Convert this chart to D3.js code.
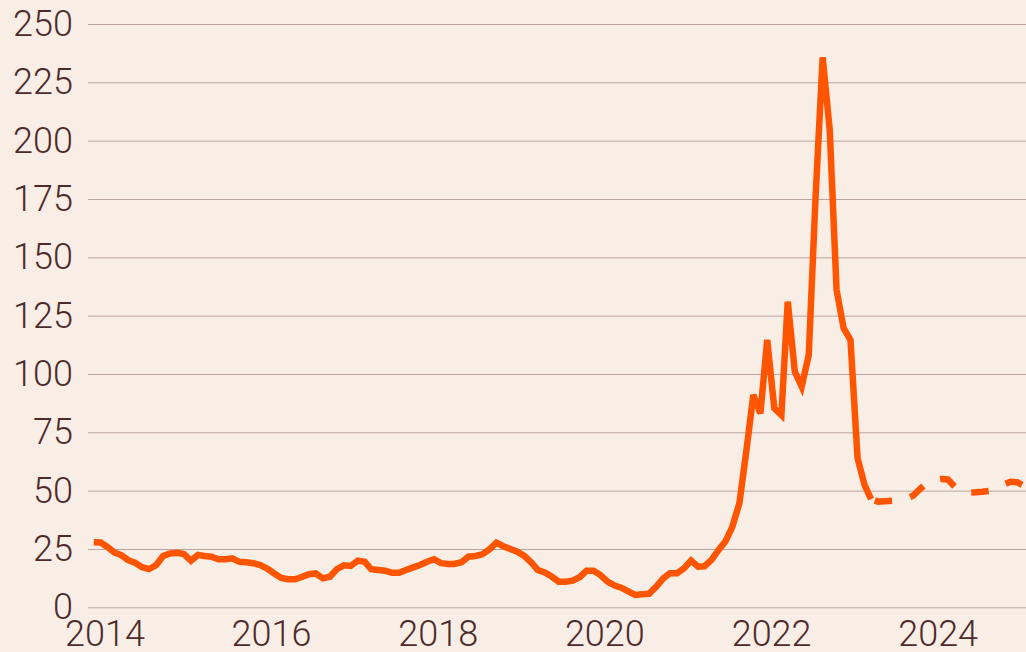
<!DOCTYPE html>
<html>
<head>
<meta charset="utf-8">
<script src="https://cdn.jsdelivr.net/npm/d3@7"></script>
<style>
  html, body { margin: 0; padding: 0; background: #f9eee5; }
  svg { display: block; }
  .tick text { font-family: Roboto, "Noto Sans", sans-serif; font-weight: 300; fill: #4e2b2b; }
</style>
</head>
<body>
<svg id="chart" width="1026" height="652"></svg>
<script>
// ---- Data (monthly averages, €/MWh) ----
const actualStart = [2013, 10]; // Nov 2013 (year, zero-based month)
const actualValues = [
  27.9, 27.8,
  25.8, 23.4, 22.4, 20.2, 19.1, 17.2, 16.4, 18.0, 22.0, 23.1, 23.4, 22.8,
  20.0, 22.4, 22.0, 21.7, 20.6, 20.6, 21.0, 19.5, 19.3, 18.9, 18.1, 16.6,
  14.5, 12.6, 12.0, 12.0, 13.0, 14.2, 14.5, 12.4, 13.1, 16.3, 18.0, 17.7,
  20.0, 19.5, 16.3, 16.0, 15.7, 14.8, 14.8, 16.0, 17.1, 18.1, 19.5, 20.6,
  18.9, 18.6, 18.6, 19.3, 21.7, 22.0, 22.7, 24.8, 27.7, 26.2, 25.0, 23.8,
  22.0, 19.2, 16.0, 14.9, 13.2, 11.0, 11.0, 11.4, 12.9, 15.7, 15.7, 13.8,
  11.0, 9.3, 8.4, 6.8, 5.3, 5.6, 5.8, 8.8, 12.4, 14.6, 14.6, 16.7,
  20.0, 17.4, 17.6, 20.3, 24.5, 28.3, 34.5, 44.6, 67.4, 91.0, 83.1, 114.6,
  85.3, 82.4, 131.0, 101.0, 94.6, 108.1, 176.0, 235.7, 204.6, 136.0, 119.6, 114.6,
  63.9, 52.4, 46.4
];
const forecastStart = [2023, 2]; // Mar 2023
const forecastValues = [
  46.4, 45.3, 45.5, 45.7, 45.9, 46.5, 47.8, 50.6, 53.3, 54.6,
  55.0, 54.8, 51.8, 49.6, 49.2, 49.3, 49.5, 49.9, 50.8, 52.5, 53.8, 53.6,
  52.0
];
const xTickYears = [2014, 2016, 2018, 2020, 2022, 2024];
const yTickValues = [0, 25, 50, 75, 100, 125, 150, 175, 200, 225, 250];

// ---- Build series ----
function toSeries(start, values) {
  return values.map((v, i) => ({ date: new Date(start[0], start[1] + i, 15), value: v }));
}
const actual = toSeries(actualStart, actualValues);
const forecast = toSeries(forecastStart, forecastValues);

// ---- Layout ----
const W = 1026, H = 652;
const plotLeft = 88, plotRight = 1026, plotTop = 24, plotBottom = 607.3;
const pxPerYear = 83.33;
const x0 = 104.5;

const svg = d3.select("#chart");
svg.append("rect").attr("width", W).attr("height", H).attr("fill", "#f9eee5");

const x = d3.scaleTime()
  .domain([new Date(2014, 0, 1), new Date(2025, 0, 1)])
  .range([x0, x0 + 11 * pxPerYear]);
const y = d3.scaleLinear().domain([0, 250]).range([plotBottom, plotTop]);

// Y axis with gridlines
const yAxis = d3.axisLeft(y)
  .tickValues(yTickValues)
  .tickSize(plotRight - plotLeft)
  .tickPadding(15)
  .tickFormat(d3.format("d"));
const gy = svg.append("g")
  .attr("transform", `translate(${plotRight},0)`)
  .call(yAxis);
gy.select(".domain").remove();
gy.selectAll(".tick line").attr("stroke", "#b9a4a0").attr("stroke-width", 1);
gy.selectAll(".tick text").attr("font-size", 36);

// X axis
const xAxis = d3.axisBottom(x)
  .tickValues(xTickYears.map(yr => new Date(yr, 0, 1)))
  .tickSize(0)
  .tickPadding(13)
  .tickFormat(d3.timeFormat("%Y"));
const gx = svg.append("g")
  .attr("transform", `translate(0,${plotBottom})`)
  .call(xAxis);
gx.select(".domain").remove();
gx.selectAll(".tick text").attr("font-size", 36);

// Lines
const line = d3.line().x(d => x(d.date)).y(d => y(d.value));
svg.append("path")
  .datum(actual)
  .attr("d", line)
  .attr("fill", "none")
  .attr("stroke", "#ff5500")
  .attr("stroke-width", 6.5);

svg.append("path")
  .datum(forecast)
  .attr("d", line)
  .attr("fill", "none")
  .attr("stroke", "#ff5500")
  .attr("stroke-width", 6.5)
  .attr("stroke-dasharray", "17.5,18.5")
  .attr("stroke-dashoffset", 32);
</script>
</body>
</html>
